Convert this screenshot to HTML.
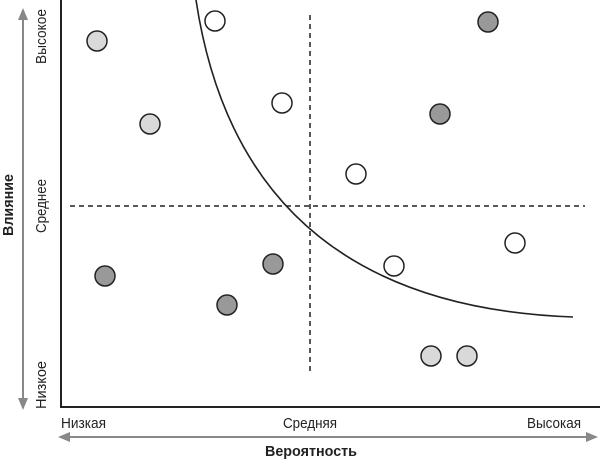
<!DOCTYPE html>
<html><head><meta charset="utf-8"><style>
html,body{margin:0;padding:0;background:#fff;width:600px;height:460px;overflow:hidden}
text{font-family:"Liberation Sans",sans-serif}
</style></head><body>
<svg width="600" height="460" viewBox="0 0 600 460">
<line x1="61" y1="0" x2="61" y2="407" stroke="#222" stroke-width="2"/>
<line x1="60" y1="407" x2="600" y2="407" stroke="#222" stroke-width="2"/>
<line x1="23" y1="14" x2="23" y2="402" stroke="#888" stroke-width="2"/>
<polygon points="23,8 18,20 28,20" fill="#888"/>
<polygon points="23,410 18,398 28,398" fill="#888"/>
<line x1="64" y1="437" x2="592" y2="437" stroke="#888" stroke-width="2"/>
<polygon points="58,437 70,432 70,442" fill="#888"/>
<polygon points="598,437 586,432 586,442" fill="#888"/>
<line x1="70" y1="206" x2="585" y2="206" stroke="#222" stroke-width="1.5" stroke-dasharray="5,4"/>
<line x1="310" y1="15" x2="310" y2="375" stroke="#222" stroke-width="1.5" stroke-dasharray="5,4"/>
<path d="M196,0 Q242,305 573,317" fill="none" stroke="#222" stroke-width="1.6"/>
<g stroke="#222" stroke-width="1.5">
<circle cx="97" cy="41" r="10" fill="#d9d9d9"/>
<circle cx="150" cy="124" r="10" fill="#d9d9d9"/>
<circle cx="431" cy="356" r="10" fill="#d9d9d9"/>
<circle cx="467" cy="356" r="10" fill="#d9d9d9"/>
<circle cx="215" cy="21" r="10" fill="#fff"/>
<circle cx="282" cy="103" r="10" fill="#fff"/>
<circle cx="356" cy="174" r="10" fill="#fff"/>
<circle cx="394" cy="266" r="10" fill="#fff"/>
<circle cx="515" cy="243" r="10" fill="#fff"/>
<circle cx="488" cy="22" r="10" fill="#999"/>
<circle cx="440" cy="114" r="10" fill="#999"/>
<circle cx="105" cy="276" r="10" fill="#999"/>
<circle cx="273" cy="264" r="10" fill="#999"/>
<circle cx="227" cy="305" r="10" fill="#999"/>
</g>
<text x="61" y="428" font-size="15" fill="#222" textLength="45" lengthAdjust="spacingAndGlyphs">Низкая</text>
<text x="283" y="428" font-size="15" fill="#222" textLength="54" lengthAdjust="spacingAndGlyphs">Средняя</text>
<text x="527" y="428" font-size="15" fill="#222" textLength="54" lengthAdjust="spacingAndGlyphs">Высокая</text>
<text x="265" y="456" font-size="15" font-weight="bold" fill="#222" textLength="92" lengthAdjust="spacingAndGlyphs">Вероятность</text>
<text transform="translate(46,64) rotate(-90)" font-size="15" fill="#222" textLength="55" lengthAdjust="spacingAndGlyphs">Высокое</text>
<text transform="translate(46,233) rotate(-90)" font-size="15" fill="#222" textLength="54" lengthAdjust="spacingAndGlyphs">Среднее</text>
<text transform="translate(46,409) rotate(-90)" font-size="15" fill="#222" textLength="48" lengthAdjust="spacingAndGlyphs">Низкое</text>
<text transform="translate(13,236) rotate(-90)" font-size="15" font-weight="bold" fill="#222" textLength="62" lengthAdjust="spacingAndGlyphs">Влияние</text>
</svg>
</body></html>
